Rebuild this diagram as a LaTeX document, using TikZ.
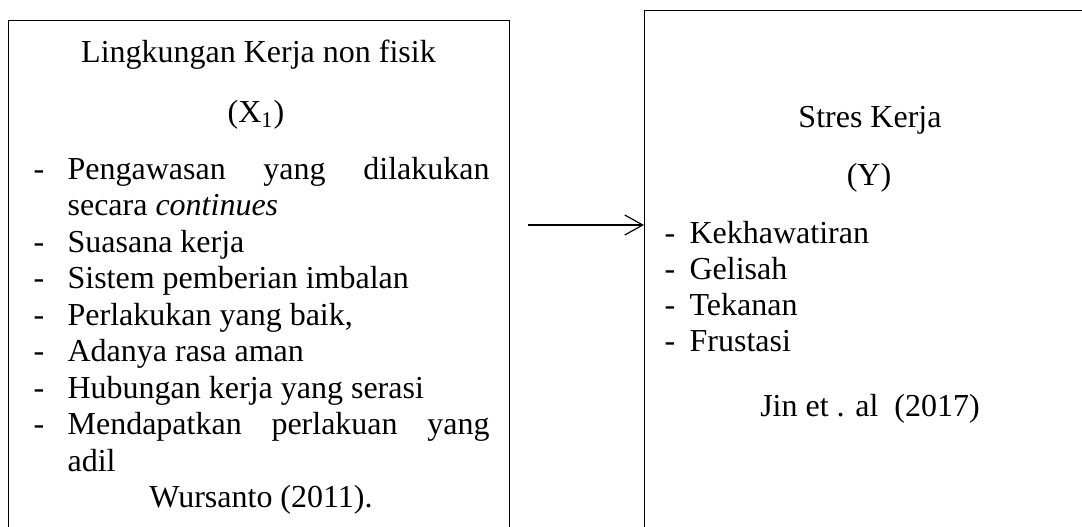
\documentclass[tikz,border=0pt]{standalone}
\usepackage{fontspec}
\setmainfont{Liberation Serif}
\usetikzlibrary{arrows.meta}

\begin{document}
\begin{tikzpicture}[x=0.5pt, y=-0.5pt, line width=0.6pt,
  every node/.style={inner sep=0pt, font=\fontsize{16}{19}\selectfont},
  frame/.style={draw, anchor=north west, minimum height=280pt},
  head/.style={anchor=base},
  item/.style={anchor=base west},
  link/.style={-{Straight Barb[length=9pt, width=10pt]}}]
  \useasboundingbox (0,0) rectangle (1082,526);
  \clip (0,0) rectangle (1082,526);
  % the two boxes, both run past the lower edge
  \node[frame, minimum width=250.5pt] (lbox) at (8,20) {};
  \node[frame, minimum width=240pt] (rbox) at (644,10) {};
  % left box
  \node[head] (lhead) at (258.5,62) {Lingkungan Kerja non fisik};
  \node[head] (lvar) at (256,122) {(X\textsubscript{1})};
  \node[item] (ld1) at (33,179) {-};
  \node[item] (li1) at (67,179) {\makebox[211pt][s]{Pengawasan yang dilakukan}};
  \node[item] (li1b) at (67,215.5) {secara \textit{continues}};
  \node[item] (ld2) at (33,252) {-};
  \node[item] (li2) at (67,252) {Suasana kerja};
  \node[item] (ld3) at (33,288.5) {-};
  \node[item] (li3) at (67,288.5) {Sistem pemberian imbalan};
  \node[item] (ld4) at (33,325) {-};
  \node[item] (li4) at (67,325) {Perlakukan yang baik,};
  \node[item] (ld5) at (33,361.5) {-};
  \node[item] (li5) at (67,361.5) {Adanya rasa aman};
  \node[item] (ld6) at (33,398) {-};
  \node[item] (li6) at (67,398) {Hubungan kerja yang serasi};
  \node[item] (ld7) at (33,434.5) {-};
  \node[item] (li7) at (67,434.5) {\makebox[211pt][s]{Mendapatkan perlakuan yang}};
  \node[item] (li7b) at (67,471) {adil};
  \node[head] (lsrc) at (261,507.5) {Wursanto (2011).};
  % right box
  \node[head] (rhead) at (870,127) {Stres Kerja};
  \node[head] (rvar) at (869,185) {(Y)};
  \node[item] (rd1) at (664,243) {-};
  \node[item] (ri1) at (689,243) {Kekhawatiran};
  \node[item] (rd2) at (664,279) {-};
  \node[item] (ri2) at (689,279) {Gelisah};
  \node[item] (rd3) at (664,315) {-};
  \node[item] (ri3) at (689,315) {Tekanan};
  \node[item] (rd4) at (664,351) {-};
  \node[item] (ri4) at (689,351) {Frustasi};
  \node[head] (rsrc) at (870,416) {Jin et . al \ (2017)};
  % arrow
  \coordinate (tail) at (528,225);
  \draw[link] (tail) -- (tail -| rbox.west);
\end{tikzpicture}
\end{document}
